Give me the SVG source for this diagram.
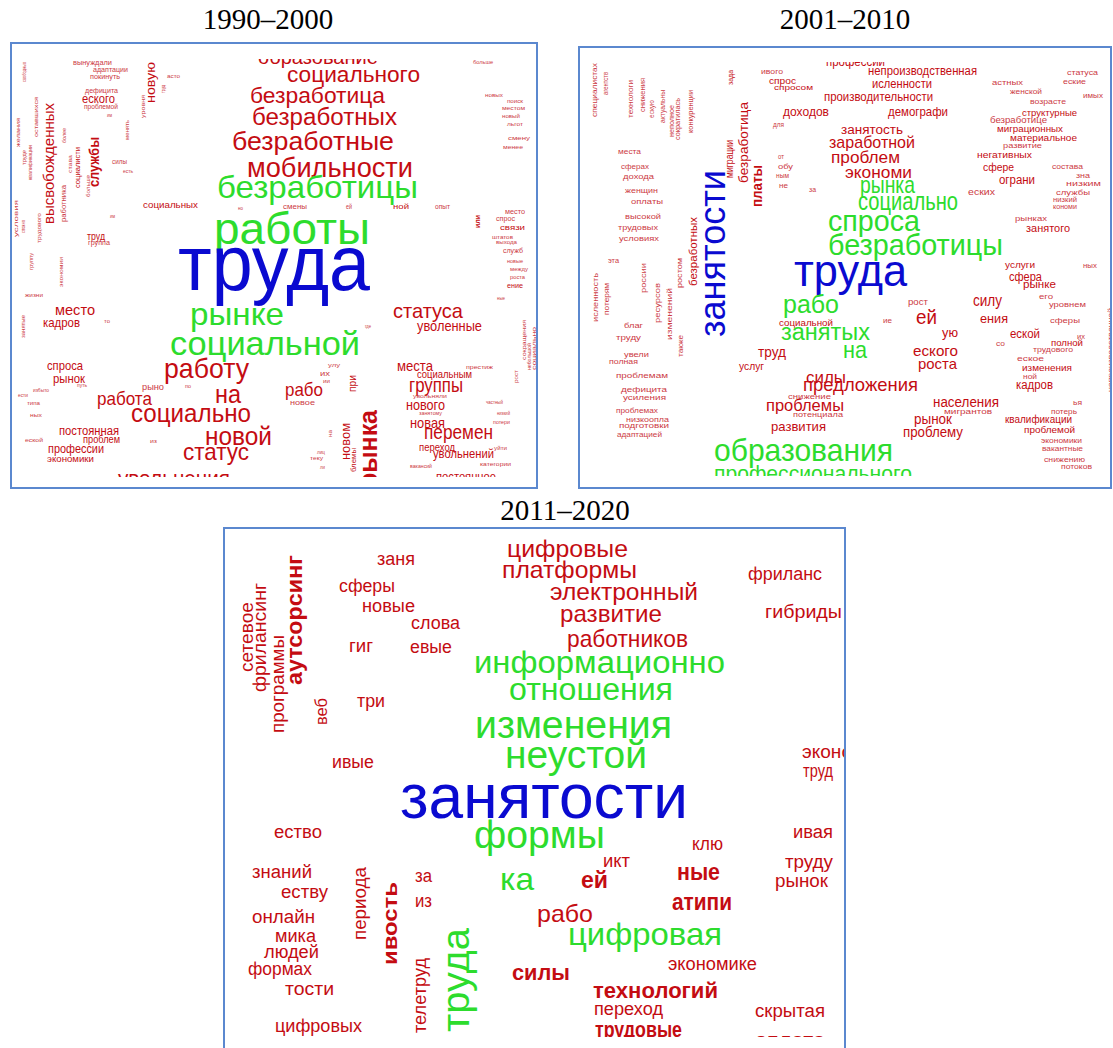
<svg xmlns="http://www.w3.org/2000/svg" width="1113" height="1048" viewBox="0 0 1113 1048">
<style>
text{font-family:"Liberation Sans",Arial,sans-serif}
.r{fill:#c40c12}
.s{fill:#cc3a44}
.g{fill:#2ddc2d}
.b{fill:#0a0ad0}
.w{font-weight:bold}
.t{font-family:"Liberation Serif","Times New Roman",serif;font-size:29px;fill:#000;text-anchor:middle}
.frame{fill:none;stroke:#5b88cf;stroke-width:2}
</style>
<defs>
<clipPath id="c1"><rect x="13" y="59" width="523" height="418"/></clipPath>
<clipPath id="c2"><rect x="581" y="62" width="529" height="414"/></clipPath>
<clipPath id="c3"><rect x="226" y="530" width="618" height="507"/></clipPath>
</defs>
<rect width="1113" height="1048" fill="#fff"/>
<text class="t" x="268" y="29">1990–2000</text>
<text class="t" x="845" y="29">2001–2010</text>
<text class="t" x="565" y="520">2011–2020</text>
<rect class="frame" x="11" y="43" width="526" height="445"/>
<rect class="frame" x="579" y="47" width="532" height="441"/>
<rect class="frame" x="224" y="528" width="621" height="540"/>
<g id="panel1" clip-path="url(#c1)">
<text class="r" x="258" y="64" font-size="20" textLength="120" lengthAdjust="spacingAndGlyphs">образование</text>
<text class="r" x="287" y="82" font-size="22" textLength="133" lengthAdjust="spacingAndGlyphs">социального</text>
<text class="r" x="250" y="103" font-size="22" textLength="135" lengthAdjust="spacingAndGlyphs">безработица</text>
<text class="r" x="252" y="125" font-size="23" textLength="145" lengthAdjust="spacingAndGlyphs">безработных</text>
<text class="r" x="232" y="150" font-size="26" textLength="162" lengthAdjust="spacingAndGlyphs">безработные</text>
<text class="r" x="247" y="177" font-size="27" textLength="166" lengthAdjust="spacingAndGlyphs">мобильности</text>
<text class="g" x="217" y="198" font-size="32" textLength="201" lengthAdjust="spacingAndGlyphs">безработицы</text>
<text class="g" x="214" y="244" font-size="44" textLength="156" lengthAdjust="spacingAndGlyphs">работы</text>
<text class="b" x="178" y="290" font-size="78" textLength="192" lengthAdjust="spacingAndGlyphs">труда</text>
<text class="g" x="190" y="325" font-size="32" textLength="94" lengthAdjust="spacingAndGlyphs">рынке</text>
<text class="g" x="170" y="355" font-size="33" textLength="190" lengthAdjust="spacingAndGlyphs">социальной</text>
<text class="r" x="164" y="378" font-size="28" textLength="85" lengthAdjust="spacingAndGlyphs">работу</text>
<text class="r" x="215" y="403" font-size="25" textLength="26" lengthAdjust="spacingAndGlyphs">на</text>
<text class="r" x="97" y="405" font-size="19" textLength="55" lengthAdjust="spacingAndGlyphs">работа</text>
<text class="s" x="142" y="390" font-size="9" textLength="22" lengthAdjust="spacingAndGlyphs">рыно</text>
<text class="s" x="185" y="388" font-size="6" textLength="6" lengthAdjust="spacingAndGlyphs">по</text>
<text class="r" x="131" y="422" font-size="25" textLength="120" lengthAdjust="spacingAndGlyphs">социально</text>
<text class="r" x="205" y="445" font-size="26" textLength="67" lengthAdjust="spacingAndGlyphs">новой</text>
<text class="r" x="183" y="460" font-size="24" textLength="66" lengthAdjust="spacingAndGlyphs">статус</text>
<text class="r" x="118" y="486" font-size="22" textLength="112" lengthAdjust="spacingAndGlyphs">увольнения</text>
<text class="r" x="55" y="315" font-size="14" textLength="40" lengthAdjust="spacingAndGlyphs">место</text>
<text class="r" x="43" y="327" font-size="13" textLength="37" lengthAdjust="spacingAndGlyphs">кадров</text>
<text class="s" x="104" y="323" font-size="6" textLength="6" lengthAdjust="spacingAndGlyphs">то</text>
<text class="s" x="25" y="297" font-size="6" textLength="18" lengthAdjust="spacingAndGlyphs">жизни</text>
<text class="r" x="47" y="370" font-size="13" textLength="36" lengthAdjust="spacingAndGlyphs">спроса</text>
<text class="r" x="53" y="383" font-size="13" textLength="32" lengthAdjust="spacingAndGlyphs">рынок</text>
<text class="s" x="77" y="387" font-size="6" textLength="10" lengthAdjust="spacingAndGlyphs">путь</text>
<text class="s" x="33" y="392" font-size="6" textLength="16" lengthAdjust="spacingAndGlyphs">избыто</text>
<text class="s" x="18" y="397" font-size="6" textLength="10" lengthAdjust="spacingAndGlyphs">ести</text>
<text class="s" x="27" y="405" font-size="6" textLength="13" lengthAdjust="spacingAndGlyphs">типа</text>
<text class="s" x="30" y="417" font-size="6" textLength="12" lengthAdjust="spacingAndGlyphs">ных</text>
<text class="r" x="59" y="435" font-size="12" textLength="60" lengthAdjust="spacingAndGlyphs">постоянная</text>
<text class="s" x="25" y="442" font-size="6" textLength="18" lengthAdjust="spacingAndGlyphs">еской</text>
<text class="r" x="83" y="443" font-size="10" textLength="37" lengthAdjust="spacingAndGlyphs">проблем</text>
<text class="r" x="48" y="453" font-size="13" textLength="56" lengthAdjust="spacingAndGlyphs">профессии</text>
<text class="s" x="150" y="443" font-size="6" textLength="7" lengthAdjust="spacingAndGlyphs">из</text>
<text class="r" x="47" y="462" font-size="9" textLength="47" lengthAdjust="spacingAndGlyphs">экономики</text>
<text class="s" x="73" y="65" font-size="7" textLength="39" lengthAdjust="spacingAndGlyphs">вынуждали</text>
<text class="s" x="93" y="72" font-size="7" textLength="35" lengthAdjust="spacingAndGlyphs">адаптации</text>
<text class="s" x="90" y="79" font-size="7" textLength="30" lengthAdjust="spacingAndGlyphs">покинуть</text>
<text class="s" x="85" y="93" font-size="8" textLength="33" lengthAdjust="spacingAndGlyphs">дефицита</text>
<text class="r" x="82" y="103" font-size="12" textLength="33" lengthAdjust="spacingAndGlyphs">еского</text>
<text class="s" x="84" y="109" font-size="7" textLength="34" lengthAdjust="spacingAndGlyphs">проблемой</text>
<text class="s" x="107" y="117" font-size="6" textLength="5" lengthAdjust="spacingAndGlyphs">им</text>
<text class="s" x="167" y="78" font-size="6" textLength="13" lengthAdjust="spacingAndGlyphs">асто</text>
<text class="s" x="112" y="164" font-size="7" textLength="15" lengthAdjust="spacingAndGlyphs">силы</text>
<text class="s" x="123" y="173" font-size="6" textLength="10" lengthAdjust="spacingAndGlyphs">есть</text>
<text class="r" x="143" y="208" font-size="9" textLength="55" lengthAdjust="spacingAndGlyphs">социальных</text>
<text class="s" x="238" y="210" font-size="6" textLength="5" lengthAdjust="spacingAndGlyphs">но</text>
<text class="s" x="110" y="218" font-size="6" textLength="5" lengthAdjust="spacingAndGlyphs">им</text>
<text class="r" x="87" y="240" font-size="10" textLength="18" lengthAdjust="spacingAndGlyphs">труд</text>
<text class="s" x="88" y="245" font-size="7" textLength="22" lengthAdjust="spacingAndGlyphs">группа</text>
<text class="s" x="473" y="64" font-size="6" textLength="20" lengthAdjust="spacingAndGlyphs">больше</text>
<text class="s" x="485" y="97" font-size="6" textLength="18" lengthAdjust="spacingAndGlyphs">новых</text>
<text class="s" x="507" y="103" font-size="6" textLength="16" lengthAdjust="spacingAndGlyphs">поиск</text>
<text class="s" x="502" y="110" font-size="6" textLength="23" lengthAdjust="spacingAndGlyphs">местом</text>
<text class="s" x="502" y="118" font-size="6" textLength="18" lengthAdjust="spacingAndGlyphs">новый</text>
<text class="s" x="507" y="126" font-size="6" textLength="16" lengthAdjust="spacingAndGlyphs">льгот</text>
<text class="s" x="508" y="140" font-size="6" textLength="22" lengthAdjust="spacingAndGlyphs">смену</text>
<text class="s" x="503" y="149" font-size="6" textLength="20" lengthAdjust="spacingAndGlyphs">менее</text>
<text class="s" x="283" y="209" font-size="8" textLength="24" lengthAdjust="spacingAndGlyphs">смены</text>
<text class="s" x="346" y="209" font-size="7" textLength="6" lengthAdjust="spacingAndGlyphs">ей</text>
<text class="r" x="393" y="209" font-size="8" textLength="16" lengthAdjust="spacingAndGlyphs">ной</text>
<text class="s" x="435" y="209" font-size="7" textLength="15" lengthAdjust="spacingAndGlyphs">опыт</text>
<text class="s" x="505" y="214" font-size="7" textLength="20" lengthAdjust="spacingAndGlyphs">место</text>
<text class="s" x="496" y="221" font-size="7" textLength="19" lengthAdjust="spacingAndGlyphs">спрос</text>
<text class="r" x="500" y="230" font-size="8" textLength="25" lengthAdjust="spacingAndGlyphs">связи</text>
<text class="s" x="492" y="239" font-size="6" textLength="21" lengthAdjust="spacingAndGlyphs">штатов</text>
<text class="s" x="496" y="244" font-size="6" textLength="21" lengthAdjust="spacingAndGlyphs">выхода</text>
<text class="s" x="503" y="253" font-size="7" textLength="20" lengthAdjust="spacingAndGlyphs">служб</text>
<text class="s" x="507" y="263" font-size="6" textLength="16" lengthAdjust="spacingAndGlyphs">новые</text>
<text class="s" x="510" y="271" font-size="6" textLength="18" lengthAdjust="spacingAndGlyphs">между</text>
<text class="s" x="510" y="279" font-size="6" textLength="15" lengthAdjust="spacingAndGlyphs">роста</text>
<text class="r" x="507" y="288" font-size="8" textLength="16" lengthAdjust="spacingAndGlyphs">ение</text>
<text class="s" x="497" y="300" font-size="6" textLength="8" lengthAdjust="spacingAndGlyphs">ные</text>
<text class="r" x="393" y="318" font-size="21" textLength="70" lengthAdjust="spacingAndGlyphs">статуса</text>
<text class="r" x="417" y="331" font-size="14" textLength="65" lengthAdjust="spacingAndGlyphs">уволенные</text>
<text class="s" x="365" y="328" font-size="6" textLength="6" lengthAdjust="spacingAndGlyphs">где</text>
<text class="r" x="397" y="371" font-size="15" textLength="36" lengthAdjust="spacingAndGlyphs">места</text>
<text class="s" x="466" y="369" font-size="6" textLength="27" lengthAdjust="spacingAndGlyphs">престиж</text>
<text class="r" x="417" y="378" font-size="10" textLength="55" lengthAdjust="spacingAndGlyphs">социальным</text>
<text class="r" x="409" y="392" font-size="20" textLength="54" lengthAdjust="spacingAndGlyphs">группы</text>
<text class="s" x="413" y="398" font-size="6" textLength="34" lengthAdjust="spacingAndGlyphs">увольняли</text>
<text class="r" x="406" y="410" font-size="15" textLength="39" lengthAdjust="spacingAndGlyphs">нового</text>
<text class="s" x="486" y="404" font-size="6" textLength="17" lengthAdjust="spacingAndGlyphs">частный</text>
<text class="s" x="419" y="415" font-size="6" textLength="23" lengthAdjust="spacingAndGlyphs">занятому</text>
<text class="s" x="497" y="415" font-size="6" textLength="13" lengthAdjust="spacingAndGlyphs">низкий</text>
<text class="r" x="410" y="428" font-size="15" textLength="35" lengthAdjust="spacingAndGlyphs">новая</text>
<text class="s" x="493" y="424" font-size="6" textLength="17" lengthAdjust="spacingAndGlyphs">потери</text>
<text class="r" x="424" y="439" font-size="20" textLength="69" lengthAdjust="spacingAndGlyphs">перемен</text>
<text class="r" x="419" y="451" font-size="11" textLength="36" lengthAdjust="spacingAndGlyphs">переход</text>
<text class="s" x="494" y="450" font-size="6" textLength="13" lengthAdjust="spacingAndGlyphs">уйти</text>
<text class="r" x="433" y="458" font-size="13" textLength="61" lengthAdjust="spacingAndGlyphs">увольнений</text>
<text class="s" x="410" y="468" font-size="6" textLength="22" lengthAdjust="spacingAndGlyphs">вакансий</text>
<text class="s" x="480" y="466" font-size="6" textLength="31" lengthAdjust="spacingAndGlyphs">категории</text>
<text class="r" x="436" y="481" font-size="13" textLength="60" lengthAdjust="spacingAndGlyphs">постоянное</text>
<text class="s" x="328" y="367" font-size="6" textLength="12" lengthAdjust="spacingAndGlyphs">улу</text>
<text class="s" x="320" y="376" font-size="7" textLength="10" lengthAdjust="spacingAndGlyphs">их</text>
<text class="s" x="323" y="383" font-size="6" textLength="7" lengthAdjust="spacingAndGlyphs">ии</text>
<text class="r" x="285" y="396" font-size="19" textLength="38" lengthAdjust="spacingAndGlyphs">рабо</text>
<text class="s" x="290" y="405" font-size="8" textLength="25" lengthAdjust="spacingAndGlyphs">новое</text>
<text class="s" x="317" y="454" font-size="6" textLength="8" lengthAdjust="spacingAndGlyphs">лиц</text>
<text class="s" x="310" y="460" font-size="6" textLength="13" lengthAdjust="spacingAndGlyphs">теку</text>
<text class="s" x="320" y="469" font-size="6" textLength="5" lengthAdjust="spacingAndGlyphs">ли</text>
<text class="r" transform="translate(155,103) rotate(-90)" font-size="12" textLength="41" lengthAdjust="spacingAndGlyphs">новую</text>
<text class="s" transform="translate(145,118) rotate(-90)" font-size="6" textLength="23" lengthAdjust="spacingAndGlyphs">уровня</text>
<text class="s" transform="translate(165,93) rotate(-90)" font-size="6" textLength="8" lengthAdjust="spacingAndGlyphs">труд</text>
<text class="s" transform="translate(26,82) rotate(-90)" font-size="6" textLength="20" lengthAdjust="spacingAndGlyphs">свободных</text>
<text class="s" transform="translate(38,137) rotate(-90)" font-size="6" textLength="40" lengthAdjust="spacingAndGlyphs">оставшихся</text>
<text class="s" transform="translate(20,147) rotate(-90)" font-size="6" textLength="29" lengthAdjust="spacingAndGlyphs">желания</text>
<text class="s" transform="translate(26,165) rotate(-90)" font-size="6" textLength="15" lengthAdjust="spacingAndGlyphs">труде</text>
<text class="s" transform="translate(32,180) rotate(-90)" font-size="6" textLength="35" lengthAdjust="spacingAndGlyphs">квалификации</text>
<text class="s" transform="translate(66,143) rotate(-90)" font-size="6" textLength="15" lengthAdjust="spacingAndGlyphs">более</text>
<text class="r" transform="translate(54,224) rotate(-90)" font-size="15" textLength="121" lengthAdjust="spacingAndGlyphs">высвобожденных</text>
<text class="r w" transform="translate(99,187) rotate(-90)" font-size="14" textLength="50" lengthAdjust="spacingAndGlyphs">службы</text>
<text class="r" transform="translate(80,188) rotate(-90)" font-size="8" textLength="41" lengthAdjust="spacingAndGlyphs">социалисти</text>
<text class="s" transform="translate(72,173) rotate(-90)" font-size="6" textLength="18" lengthAdjust="spacingAndGlyphs">става</text>
<text class="s" transform="translate(66,222) rotate(-90)" font-size="7" textLength="37" lengthAdjust="spacingAndGlyphs">работника</text>
<text class="s" transform="translate(90,197) rotate(-90)" font-size="6" textLength="22" lengthAdjust="spacingAndGlyphs">больше</text>
<text class="s" transform="translate(129,140) rotate(-90)" font-size="6" textLength="20" lengthAdjust="spacingAndGlyphs">менять</text>
<text class="s" transform="translate(18,237) rotate(-90)" font-size="6" textLength="37" lengthAdjust="spacingAndGlyphs">условия</text>
<text class="s" transform="translate(25,233) rotate(-90)" font-size="6" textLength="13" lengthAdjust="spacingAndGlyphs">сложно</text>
<text class="s" transform="translate(41,243) rotate(-90)" font-size="6" textLength="30" lengthAdjust="spacingAndGlyphs">трудового</text>
<text class="s" transform="translate(33,270) rotate(-90)" font-size="6" textLength="17" lengthAdjust="spacingAndGlyphs">группу</text>
<text class="s" transform="translate(63,287) rotate(-90)" font-size="6" textLength="30" lengthAdjust="spacingAndGlyphs">экономии</text>
<text class="s" transform="translate(25,338) rotate(-90)" font-size="6" textLength="23" lengthAdjust="spacingAndGlyphs">занятые</text>
<text class="r w" transform="translate(480,228) rotate(-90)" font-size="8" textLength="13" lengthAdjust="spacingAndGlyphs">или</text>
<text class="s" transform="translate(526,360) rotate(-90)" font-size="6" textLength="40" lengthAdjust="spacingAndGlyphs">сокращения</text>
<text class="s" transform="translate(531,370) rotate(-90)" font-size="5" textLength="27" lengthAdjust="spacingAndGlyphs">небольшой</text>
<text class="s" transform="translate(536,370) rotate(-90)" font-size="5" textLength="43" lengthAdjust="spacingAndGlyphs">социально</text>
<text class="s" transform="translate(518,383) rotate(-90)" font-size="6" textLength="13" lengthAdjust="spacingAndGlyphs">рост</text>
<text class="r" transform="translate(356,392) rotate(-90)" font-size="11" textLength="17" lengthAdjust="spacingAndGlyphs">при</text>
<text class="r w" transform="translate(377,488) rotate(-90)" font-size="26" textLength="78" lengthAdjust="spacingAndGlyphs">рынка</text>
<text class="r" transform="translate(350,460) rotate(-90)" font-size="12" textLength="37" lengthAdjust="spacingAndGlyphs">новом</text>
<text class="r" transform="translate(356,472) rotate(-90)" font-size="8" textLength="24" lengthAdjust="spacingAndGlyphs">блемы</text>
<text class="s" transform="translate(332,437) rotate(-90)" font-size="6" textLength="7" lengthAdjust="spacingAndGlyphs">на</text>
</g>
<g id="panel2" clip-path="url(#c2)">
<text class="r" x="826" y="66" font-size="12" textLength="59" lengthAdjust="spacingAndGlyphs">профессии</text>
<text class="r" x="868" y="75" font-size="12" textLength="109" lengthAdjust="spacingAndGlyphs">непроизводственная</text>
<text class="s" x="761" y="74" font-size="7" textLength="22" lengthAdjust="spacingAndGlyphs">ивого</text>
<text class="r" x="769" y="84" font-size="9" textLength="27" lengthAdjust="spacingAndGlyphs">спрос</text>
<text class="r" x="774" y="90" font-size="8" textLength="39" lengthAdjust="spacingAndGlyphs">спросом</text>
<text class="r" x="872" y="88" font-size="12" textLength="60" lengthAdjust="spacingAndGlyphs">исленности</text>
<text class="r" x="824" y="101" font-size="12" textLength="109" lengthAdjust="spacingAndGlyphs">производительности</text>
<text class="r" x="783" y="116" font-size="12" textLength="46" lengthAdjust="spacingAndGlyphs">доходов</text>
<text class="r" x="888" y="116" font-size="13" textLength="60" lengthAdjust="spacingAndGlyphs">демографи</text>
<text class="s" x="773" y="127" font-size="7" textLength="11" lengthAdjust="spacingAndGlyphs">для</text>
<text class="r" x="841" y="134" font-size="12" textLength="62" lengthAdjust="spacingAndGlyphs">занятость</text>
<text class="r" x="829" y="148" font-size="17" textLength="86" lengthAdjust="spacingAndGlyphs">заработной</text>
<text class="r" x="831" y="163" font-size="17" textLength="69" lengthAdjust="spacingAndGlyphs">проблем</text>
<text class="r" x="845" y="178" font-size="17" textLength="67" lengthAdjust="spacingAndGlyphs">экономи</text>
<text class="s" x="778" y="159" font-size="7" textLength="6" lengthAdjust="spacingAndGlyphs">от</text>
<text class="s" x="778" y="169" font-size="7" textLength="15" lengthAdjust="spacingAndGlyphs">обу</text>
<text class="s" x="776" y="178" font-size="7" textLength="13" lengthAdjust="spacingAndGlyphs">ным</text>
<text class="s" x="779" y="188" font-size="7" textLength="9" lengthAdjust="spacingAndGlyphs">не</text>
<text class="s" x="809" y="192" font-size="7" textLength="7" lengthAdjust="spacingAndGlyphs">за</text>
<text class="s" x="618" y="154" font-size="8" textLength="23" lengthAdjust="spacingAndGlyphs">места</text>
<text class="s" x="621" y="169" font-size="8" textLength="28" lengthAdjust="spacingAndGlyphs">сферах</text>
<text class="s" x="623" y="179" font-size="8" textLength="31" lengthAdjust="spacingAndGlyphs">дохода</text>
<text class="s" x="625" y="193" font-size="8" textLength="33" lengthAdjust="spacingAndGlyphs">женщин</text>
<text class="s" x="631" y="204" font-size="8" textLength="32" lengthAdjust="spacingAndGlyphs">оплаты</text>
<text class="s" x="625" y="219" font-size="8" textLength="36" lengthAdjust="spacingAndGlyphs">высокой</text>
<text class="s" x="618" y="230" font-size="8" textLength="40" lengthAdjust="spacingAndGlyphs">трудовых</text>
<text class="s" x="619" y="241" font-size="8" textLength="40" lengthAdjust="spacingAndGlyphs">условиях</text>
<text class="s" x="608" y="263" font-size="7" textLength="11" lengthAdjust="spacingAndGlyphs">эта</text>
<text class="g" x="860" y="193" font-size="24" textLength="55" lengthAdjust="spacingAndGlyphs">рынка</text>
<text class="g" x="858" y="210" font-size="26" textLength="100" lengthAdjust="spacingAndGlyphs">социально</text>
<text class="g" x="828" y="231" font-size="30" textLength="92" lengthAdjust="spacingAndGlyphs">спроса</text>
<text class="g" x="828" y="255" font-size="30" textLength="175" lengthAdjust="spacingAndGlyphs">безработицы</text>
<text class="b" x="794" y="286" font-size="45" textLength="113" lengthAdjust="spacingAndGlyphs">труда</text>
<text class="g" x="783" y="313" font-size="26" textLength="56" lengthAdjust="spacingAndGlyphs">рабо</text>
<text class="r" x="779" y="326" font-size="9" textLength="54" lengthAdjust="spacingAndGlyphs">социальной</text>
<text class="g" x="781" y="340" font-size="23" textLength="89" lengthAdjust="spacingAndGlyphs">занятых</text>
<text class="g" x="843" y="358" font-size="24" textLength="24" lengthAdjust="spacingAndGlyphs">на</text>
<text class="r" x="758" y="357" font-size="14" textLength="28" lengthAdjust="spacingAndGlyphs">труд</text>
<text class="r" x="739" y="370" font-size="10" textLength="25" lengthAdjust="spacingAndGlyphs">услуг</text>
<text class="r" x="806" y="383" font-size="17" textLength="40" lengthAdjust="spacingAndGlyphs">силы</text>
<text class="r" x="803" y="391" font-size="19" textLength="115" lengthAdjust="spacingAndGlyphs">предложения</text>
<text class="s" x="788" y="399" font-size="8" textLength="43" lengthAdjust="spacingAndGlyphs">снижение</text>
<text class="r" x="766" y="411" font-size="17" textLength="78" lengthAdjust="spacingAndGlyphs">проблемы</text>
<text class="s" x="793" y="417" font-size="8" textLength="50" lengthAdjust="spacingAndGlyphs">потенциала</text>
<text class="r" x="771" y="431" font-size="13" textLength="55" lengthAdjust="spacingAndGlyphs">развития</text>
<text class="g" x="714" y="461" font-size="32" textLength="179" lengthAdjust="spacingAndGlyphs">образования</text>
<text class="g" x="714" y="481" font-size="22" textLength="198" lengthAdjust="spacingAndGlyphs">профессионального</text>
<text class="s" x="1067" y="75" font-size="8" textLength="31" lengthAdjust="spacingAndGlyphs">статуса</text>
<text class="s" x="992" y="85" font-size="8" textLength="31" lengthAdjust="spacingAndGlyphs">астных</text>
<text class="s" x="1063" y="84" font-size="8" textLength="23" lengthAdjust="spacingAndGlyphs">еские</text>
<text class="s" x="1010" y="94" font-size="7" textLength="32" lengthAdjust="spacingAndGlyphs">женской</text>
<text class="s" x="1083" y="98" font-size="7" textLength="20" lengthAdjust="spacingAndGlyphs">имых</text>
<text class="s" x="1030" y="104" font-size="8" textLength="36" lengthAdjust="spacingAndGlyphs">возрасте</text>
<text class="r" x="1022" y="116" font-size="9" textLength="55" lengthAdjust="spacingAndGlyphs">структурные</text>
<text class="s" x="990" y="123" font-size="9" textLength="57" lengthAdjust="spacingAndGlyphs">безработице</text>
<text class="r" x="997" y="132" font-size="9" textLength="66" lengthAdjust="spacingAndGlyphs">миграционных</text>
<text class="r" x="1010" y="141" font-size="9" textLength="67" lengthAdjust="spacingAndGlyphs">материальное</text>
<text class="s" x="1003" y="148" font-size="8" textLength="39" lengthAdjust="spacingAndGlyphs">развитие</text>
<text class="r" x="977" y="158" font-size="9" textLength="55" lengthAdjust="spacingAndGlyphs">негативных</text>
<text class="r" x="983" y="171" font-size="11" textLength="31" lengthAdjust="spacingAndGlyphs">сфере</text>
<text class="s" x="1052" y="169" font-size="8" textLength="31" lengthAdjust="spacingAndGlyphs">состава</text>
<text class="r" x="999" y="184" font-size="12" textLength="36" lengthAdjust="spacingAndGlyphs">ограни</text>
<text class="s" x="1076" y="178" font-size="7" textLength="14" lengthAdjust="spacingAndGlyphs">зна</text>
<text class="s" x="1066" y="186" font-size="7" textLength="35" lengthAdjust="spacingAndGlyphs">низким</text>
<text class="s" x="968" y="195" font-size="9" textLength="27" lengthAdjust="spacingAndGlyphs">еских</text>
<text class="s" x="1056" y="195" font-size="8" textLength="34" lengthAdjust="spacingAndGlyphs">службы</text>
<text class="s" x="1053" y="202" font-size="7" textLength="24" lengthAdjust="spacingAndGlyphs">низкий</text>
<text class="s" x="1053" y="209" font-size="7" textLength="24" lengthAdjust="spacingAndGlyphs">кономи</text>
<text class="s" x="1015" y="221" font-size="8" textLength="32" lengthAdjust="spacingAndGlyphs">рынках</text>
<text class="r" x="1026" y="232" font-size="10" textLength="44" lengthAdjust="spacingAndGlyphs">занятого</text>
<text class="r" x="1005" y="268" font-size="9" textLength="30" lengthAdjust="spacingAndGlyphs">услуги</text>
<text class="s" x="1083" y="268" font-size="7" textLength="14" lengthAdjust="spacingAndGlyphs">ных</text>
<text class="r" x="1009" y="281" font-size="12" textLength="33" lengthAdjust="spacingAndGlyphs">сфера</text>
<text class="r" x="1023" y="288" font-size="10" textLength="33" lengthAdjust="spacingAndGlyphs">рынке</text>
<text class="s" x="1039" y="299" font-size="7" textLength="14" lengthAdjust="spacingAndGlyphs">его</text>
<text class="s" x="1049" y="307" font-size="8" textLength="37" lengthAdjust="spacingAndGlyphs">уровнем</text>
<text class="s" x="1050" y="323" font-size="8" textLength="30" lengthAdjust="spacingAndGlyphs">сферы</text>
<text class="s" x="908" y="305" font-size="9" textLength="20" lengthAdjust="spacingAndGlyphs">рост</text>
<text class="r" x="973" y="306" font-size="16" textLength="29" lengthAdjust="spacingAndGlyphs">силу</text>
<text class="s" x="883" y="323" font-size="7" textLength="9" lengthAdjust="spacingAndGlyphs">ие</text>
<text class="r" x="916" y="324" font-size="20" textLength="21" lengthAdjust="spacingAndGlyphs">ей</text>
<text class="r" x="980" y="323" font-size="13" textLength="28" lengthAdjust="spacingAndGlyphs">ения</text>
<text class="r" x="942" y="337" font-size="13" textLength="16" lengthAdjust="spacingAndGlyphs">ую</text>
<text class="r" x="1010" y="338" font-size="13" textLength="30" lengthAdjust="spacingAndGlyphs">еской</text>
<text class="s" x="1077" y="339" font-size="7" textLength="8" lengthAdjust="spacingAndGlyphs">их</text>
<text class="s" x="996" y="346" font-size="7" textLength="9" lengthAdjust="spacingAndGlyphs">со</text>
<text class="r" x="1051" y="346" font-size="9" textLength="32" lengthAdjust="spacingAndGlyphs">полной</text>
<text class="s" x="1033" y="352" font-size="8" textLength="40" lengthAdjust="spacingAndGlyphs">трудового</text>
<text class="r" x="913" y="356" font-size="15" textLength="45" lengthAdjust="spacingAndGlyphs">еского</text>
<text class="r" x="918" y="369" font-size="15" textLength="39" lengthAdjust="spacingAndGlyphs">роста</text>
<text class="s" x="1017" y="361" font-size="8" textLength="27" lengthAdjust="spacingAndGlyphs">еское</text>
<text class="r" x="1022" y="371" font-size="9" textLength="50" lengthAdjust="spacingAndGlyphs">изменения</text>
<text class="s" x="1023" y="379" font-size="7" textLength="14" lengthAdjust="spacingAndGlyphs">ной</text>
<text class="r" x="1016" y="389" font-size="12" textLength="37" lengthAdjust="spacingAndGlyphs">кадров</text>
<text class="r" x="933" y="407" font-size="14" textLength="66" lengthAdjust="spacingAndGlyphs">населения</text>
<text class="s" x="1073" y="405" font-size="7" textLength="9" lengthAdjust="spacingAndGlyphs">ья</text>
<text class="s" x="944" y="414" font-size="8" textLength="48" lengthAdjust="spacingAndGlyphs">мигрантов</text>
<text class="s" x="1051" y="414" font-size="8" textLength="26" lengthAdjust="spacingAndGlyphs">потерь</text>
<text class="r" x="914" y="424" font-size="14" textLength="38" lengthAdjust="spacingAndGlyphs">рынок</text>
<text class="r" x="1005" y="423" font-size="10" textLength="67" lengthAdjust="spacingAndGlyphs">квалификации</text>
<text class="r" x="903" y="437" font-size="14" textLength="60" lengthAdjust="spacingAndGlyphs">проблему</text>
<text class="r" x="1024" y="433" font-size="9" textLength="51" lengthAdjust="spacingAndGlyphs">проблемой</text>
<text class="s" x="1041" y="443" font-size="8" textLength="41" lengthAdjust="spacingAndGlyphs">экономики</text>
<text class="s" x="1042" y="451" font-size="8" textLength="41" lengthAdjust="spacingAndGlyphs">вакантные</text>
<text class="s" x="1044" y="462" font-size="7" textLength="41" lengthAdjust="spacingAndGlyphs">снижению</text>
<text class="s" x="1061" y="469" font-size="7" textLength="31" lengthAdjust="spacingAndGlyphs">потоков</text>
<text class="s" x="624" y="328" font-size="7" textLength="19" lengthAdjust="spacingAndGlyphs">благ</text>
<text class="s" x="616" y="340" font-size="8" textLength="25" lengthAdjust="spacingAndGlyphs">труду</text>
<text class="s" x="624" y="357" font-size="7" textLength="25" lengthAdjust="spacingAndGlyphs">увели</text>
<text class="s" x="609" y="364" font-size="7" textLength="29" lengthAdjust="spacingAndGlyphs">полная</text>
<text class="s" x="616" y="378" font-size="8" textLength="52" lengthAdjust="spacingAndGlyphs">проблемам</text>
<text class="s" x="621" y="392" font-size="8" textLength="46" lengthAdjust="spacingAndGlyphs">дефицита</text>
<text class="s" x="623" y="400" font-size="8" textLength="43" lengthAdjust="spacingAndGlyphs">усиления</text>
<text class="s" x="616" y="413" font-size="8" textLength="42" lengthAdjust="spacingAndGlyphs">проблемах</text>
<text class="s" x="626" y="422" font-size="8" textLength="43" lengthAdjust="spacingAndGlyphs">низкоопла</text>
<text class="s" x="619" y="428" font-size="8" textLength="50" lengthAdjust="spacingAndGlyphs">подготовки</text>
<text class="s" x="617" y="437" font-size="8" textLength="45" lengthAdjust="spacingAndGlyphs">адаптацией</text>
<text class="s" transform="translate(597,117) rotate(-90)" font-size="8" textLength="54" lengthAdjust="spacingAndGlyphs">специалистах</text>
<text class="s" transform="translate(608,95) rotate(-90)" font-size="7" textLength="23" lengthAdjust="spacingAndGlyphs">агентств</text>
<text class="s" transform="translate(633,118) rotate(-90)" font-size="7" textLength="38" lengthAdjust="spacingAndGlyphs">технологи</text>
<text class="s" transform="translate(645,112) rotate(-90)" font-size="7" textLength="34" lengthAdjust="spacingAndGlyphs">снижения</text>
<text class="s" transform="translate(654,118) rotate(-90)" font-size="7" textLength="18" lengthAdjust="spacingAndGlyphs">ескую</text>
<text class="s" transform="translate(665,123) rotate(-90)" font-size="7" textLength="33" lengthAdjust="spacingAndGlyphs">актуальны</text>
<text class="s" transform="translate(674,137) rotate(-90)" font-size="7" textLength="32" lengthAdjust="spacingAndGlyphs">неполное</text>
<text class="s" transform="translate(680,140) rotate(-90)" font-size="7" textLength="42" lengthAdjust="spacingAndGlyphs">сократилась</text>
<text class="s" transform="translate(693,133) rotate(-90)" font-size="7" textLength="43" lengthAdjust="spacingAndGlyphs">конкуренции</text>
<text class="r" transform="translate(733,85) rotate(-90)" font-size="8" textLength="15" lengthAdjust="spacingAndGlyphs">зада</text>
<text class="r" transform="translate(733,178) rotate(-90)" font-size="10" textLength="38" lengthAdjust="spacingAndGlyphs">миграции</text>
<text class="r" transform="translate(748,183) rotate(-90)" font-size="13" textLength="81" lengthAdjust="spacingAndGlyphs">безработица</text>
<text class="r w" transform="translate(762,207) rotate(-90)" font-size="15" textLength="42" lengthAdjust="spacingAndGlyphs">платы</text>
<text class="b" transform="translate(725,337) rotate(-90)" font-size="36" textLength="167" lengthAdjust="spacingAndGlyphs">занятости</text>
<text class="r" transform="translate(697,286) rotate(-90)" font-size="11" textLength="69" lengthAdjust="spacingAndGlyphs">безработных</text>
<text class="s" transform="translate(682,288) rotate(-90)" font-size="8" textLength="30" lengthAdjust="spacingAndGlyphs">ростом</text>
<text class="s" transform="translate(646,293) rotate(-90)" font-size="8" textLength="30" lengthAdjust="spacingAndGlyphs">россии</text>
<text class="s" transform="translate(598,322) rotate(-90)" font-size="8" textLength="49" lengthAdjust="spacingAndGlyphs">исленность</text>
<text class="s" transform="translate(609,315) rotate(-90)" font-size="7" textLength="32" lengthAdjust="spacingAndGlyphs">потерям</text>
<text class="s" transform="translate(660,323) rotate(-90)" font-size="8" textLength="40" lengthAdjust="spacingAndGlyphs">ресурсов</text>
<text class="s" transform="translate(672,340) rotate(-90)" font-size="8" textLength="52" lengthAdjust="spacingAndGlyphs">изменений</text>
<text class="s" transform="translate(683,357) rotate(-90)" font-size="7" textLength="22" lengthAdjust="spacingAndGlyphs">также</text>
<text class="s" transform="translate(1113,392) rotate(-90)" font-size="7" textLength="84" lengthAdjust="spacingAndGlyphs">непроизводственной</text>
</g>
<g id="panel3" clip-path="url(#c3)">
<text class="r" x="377" y="565" font-size="18" textLength="38" lengthAdjust="spacingAndGlyphs">заня</text>
<text class="r" x="339" y="592" font-size="18" textLength="56" lengthAdjust="spacingAndGlyphs">сферы</text>
<text class="r" x="362" y="612" font-size="18" textLength="53" lengthAdjust="spacingAndGlyphs">новые</text>
<text class="r" x="411" y="629" font-size="18" textLength="49" lengthAdjust="spacingAndGlyphs">слова</text>
<text class="r" x="349" y="652" font-size="18" textLength="24" lengthAdjust="spacingAndGlyphs">гиг</text>
<text class="r" x="410" y="653" font-size="18" textLength="42" lengthAdjust="spacingAndGlyphs">евые</text>
<text class="r" x="357" y="707" font-size="18" textLength="28" lengthAdjust="spacingAndGlyphs">три</text>
<text class="r" x="332" y="768" font-size="18" textLength="42" lengthAdjust="spacingAndGlyphs">ивые</text>
<text class="r" x="507" y="557" font-size="24" textLength="121" lengthAdjust="spacingAndGlyphs">цифровые</text>
<text class="r" x="502" y="578" font-size="24" textLength="135" lengthAdjust="spacingAndGlyphs">платформы</text>
<text class="r" x="550" y="600" font-size="24" textLength="148" lengthAdjust="spacingAndGlyphs">электронный</text>
<text class="r" x="560" y="622" font-size="24" textLength="102" lengthAdjust="spacingAndGlyphs">развитие</text>
<text class="r" x="567" y="647" font-size="24" textLength="121" lengthAdjust="spacingAndGlyphs">работников</text>
<text class="r" x="748" y="580" font-size="18" textLength="74" lengthAdjust="spacingAndGlyphs">фриланс</text>
<text class="r" x="765" y="618" font-size="18" textLength="77" lengthAdjust="spacingAndGlyphs">гибриды</text>
<text class="g" x="474" y="673" font-size="31" textLength="251" lengthAdjust="spacingAndGlyphs">информационно</text>
<text class="g" x="509" y="700" font-size="31" textLength="164" lengthAdjust="spacingAndGlyphs">отношения</text>
<text class="g" x="475" y="738" font-size="38" textLength="197" lengthAdjust="spacingAndGlyphs">изменения</text>
<text class="g" x="505" y="768" font-size="38" textLength="142" lengthAdjust="spacingAndGlyphs">неустой</text>
<text class="r" x="802" y="758" font-size="18" textLength="50" lengthAdjust="spacingAndGlyphs">эконо</text>
<text class="r" x="803" y="777" font-size="18" textLength="30" lengthAdjust="spacingAndGlyphs">труд</text>
<text class="b" x="400" y="818" font-size="63" textLength="288" lengthAdjust="spacingAndGlyphs">занятости</text>
<text class="g" x="474" y="848" font-size="38" textLength="131" lengthAdjust="spacingAndGlyphs">формы</text>
<text class="g" x="500" y="890" font-size="32" textLength="34" lengthAdjust="spacingAndGlyphs">ка</text>
<text class="r" x="274" y="838" font-size="18" textLength="48" lengthAdjust="spacingAndGlyphs">ество</text>
<text class="r" x="252" y="878" font-size="18" textLength="60" lengthAdjust="spacingAndGlyphs">знаний</text>
<text class="r" x="281" y="898" font-size="18" textLength="47" lengthAdjust="spacingAndGlyphs">еству</text>
<text class="r" x="252" y="923" font-size="18" textLength="63" lengthAdjust="spacingAndGlyphs">онлайн</text>
<text class="r" x="275" y="942" font-size="18" textLength="41" lengthAdjust="spacingAndGlyphs">мика</text>
<text class="r" x="264" y="958" font-size="18" textLength="55" lengthAdjust="spacingAndGlyphs">людей</text>
<text class="r" x="248" y="975" font-size="18" textLength="64" lengthAdjust="spacingAndGlyphs">формах</text>
<text class="r" x="285" y="995" font-size="18" textLength="49" lengthAdjust="spacingAndGlyphs">тости</text>
<text class="r" x="275" y="1032" font-size="18" textLength="87" lengthAdjust="spacingAndGlyphs">цифровых</text>
<text class="r" x="415" y="882" font-size="18" textLength="17" lengthAdjust="spacingAndGlyphs">за</text>
<text class="r" x="415" y="907" font-size="18" textLength="17" lengthAdjust="spacingAndGlyphs">из</text>
<text class="r w" x="512" y="980" font-size="22" textLength="58" lengthAdjust="spacingAndGlyphs">силы</text>
<text class="r" x="793" y="838" font-size="18" textLength="40" lengthAdjust="spacingAndGlyphs">ивая</text>
<text class="r" x="692" y="850" font-size="18" textLength="31" lengthAdjust="spacingAndGlyphs">клю</text>
<text class="r" x="603" y="867" font-size="18" textLength="27" lengthAdjust="spacingAndGlyphs">икт</text>
<text class="r" x="785" y="868" font-size="18" textLength="48" lengthAdjust="spacingAndGlyphs">труду</text>
<text class="r" x="775" y="887" font-size="18" textLength="53" lengthAdjust="spacingAndGlyphs">рынок</text>
<text class="r w" x="581" y="888" font-size="24" textLength="27" lengthAdjust="spacingAndGlyphs">ей</text>
<text class="r w" x="677" y="880" font-size="24" textLength="43" lengthAdjust="spacingAndGlyphs">ные</text>
<text class="r w" x="672" y="910" font-size="24" textLength="60" lengthAdjust="spacingAndGlyphs">атипи</text>
<text class="r" x="537" y="922" font-size="24" textLength="56" lengthAdjust="spacingAndGlyphs">рабо</text>
<text class="g" x="568" y="945" font-size="32" textLength="154" lengthAdjust="spacingAndGlyphs">цифровая</text>
<text class="r" x="668" y="970" font-size="18" textLength="89" lengthAdjust="spacingAndGlyphs">экономике</text>
<text class="r w" x="593" y="998" font-size="22" textLength="125" lengthAdjust="spacingAndGlyphs">технологий</text>
<text class="r" x="594" y="1015" font-size="18" textLength="69" lengthAdjust="spacingAndGlyphs">переход</text>
<text class="r" x="755" y="1017" font-size="18" textLength="70" lengthAdjust="spacingAndGlyphs">скрытая</text>
<text class="r w" x="595" y="1037" font-size="22" textLength="87" lengthAdjust="spacingAndGlyphs">трудовые</text>
<text class="r" x="755" y="1046" font-size="18" textLength="70" lengthAdjust="spacingAndGlyphs">оплата</text>
<text class="r" transform="translate(253,672) rotate(-90)" font-size="18" textLength="70" lengthAdjust="spacingAndGlyphs">сетевое</text>
<text class="r" transform="translate(266,692) rotate(-90)" font-size="18" textLength="109" lengthAdjust="spacingAndGlyphs">фрилансинг</text>
<text class="r" transform="translate(284,733) rotate(-90)" font-size="18" textLength="98" lengthAdjust="spacingAndGlyphs">программы</text>
<text class="r w" transform="translate(302,685) rotate(-90)" font-size="22" textLength="130" lengthAdjust="spacingAndGlyphs">аутсорсинг</text>
<text class="r" transform="translate(327,725) rotate(-90)" font-size="16" textLength="27" lengthAdjust="spacingAndGlyphs">веб</text>
<text class="r" transform="translate(366,940) rotate(-90)" font-size="18" textLength="73" lengthAdjust="spacingAndGlyphs">периода</text>
<text class="r w" transform="translate(397,965) rotate(-90)" font-size="21" textLength="83" lengthAdjust="spacingAndGlyphs">ивость</text>
<text class="r" transform="translate(426,1033) rotate(-90)" font-size="18" textLength="75" lengthAdjust="spacingAndGlyphs">телетруд</text>
<text class="g" transform="translate(469,1032) rotate(-90)" font-size="38" textLength="104" lengthAdjust="spacingAndGlyphs">труда</text>
</g>
</svg>
